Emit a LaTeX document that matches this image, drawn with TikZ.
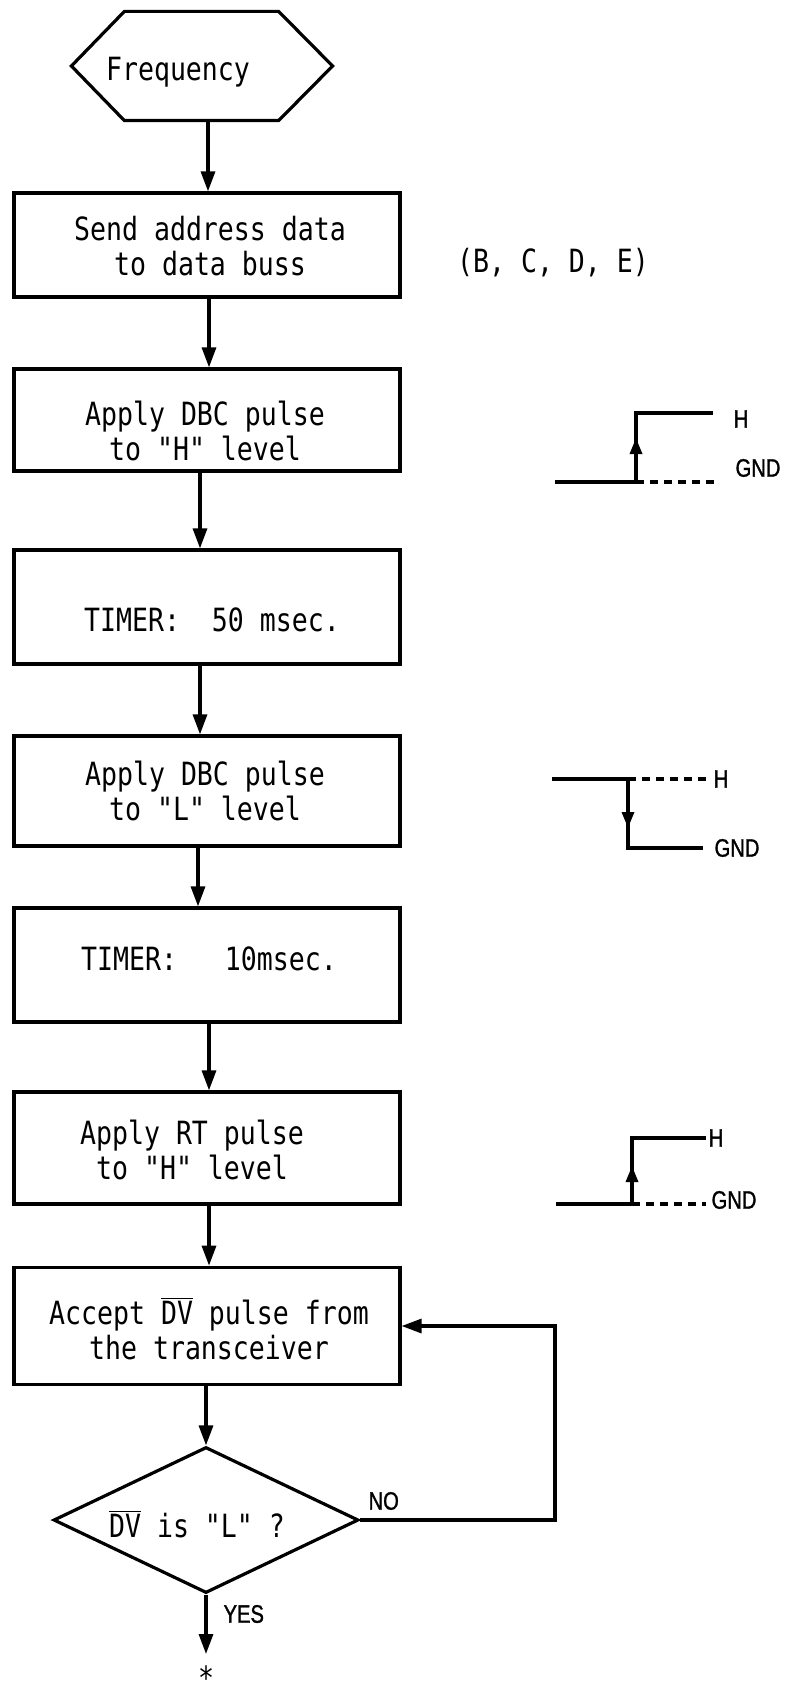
\documentclass[tikz,border=0pt]{standalone}
\usepackage{fontspec}
\usepackage{graphicx}
\usetikzlibrary{arrows.meta,shapes.geometric}
\newfontfamily\tw[FakeStretch=0.83]{DejaVu Sans Mono}
\newfontfamily\lbl[FakeStretch=0.8,FakeBold=1.2]{Liberation Sans}
\begin{document}
\begin{tikzpicture}[x=0.5pt,y=-0.5pt,
  line width=1.6pt,
  txt/.style={font=\tw\fontsize{16}{17.5}\selectfont, align=center, inner sep=0pt},
  stepbox/.style={draw, rectangle, minimum width=193pt, inner sep=0pt},
  arr/.style={-{Triangle[length=10pt,width=7pt]}},
  parr/.style={-{Triangle[length=8pt,width=6pt]}},
  lab/.style={font=\lbl\fontsize{12.6}{14}\selectfont, inner sep=0pt},
  dsh/.style={dash pattern=on 4pt off 3pt},
]
\useasboundingbox (0,0) rectangle (785,1696);

% start hexagon
\node[minimum width=129pt, minimum height=53pt, inner sep=0pt] (hex) at (202,66) {};
\draw[line join=miter] (hex.west) -- ([xshift=26.5pt]hex.north west) -- ([xshift=-27pt]hex.north east) -- (hex.east) -- ([xshift=-27pt]hex.south east) -- ([xshift=26.5pt]hex.south west) -- cycle;
\node[txt] (freq) at (178,72) {Frequency};

% boxes
\node[stepbox, minimum height=52pt] (b1) at (207,245) {};
\node[txt] (t1) at (210,246) {Send address data\\to data buss};
\node[stepbox, minimum height=51pt] (b2) at (207,420) {};
\node[txt] (t2) at (205,431) {Apply DBC pulse\\to "H" level};
\node[stepbox, minimum height=57pt] (b3) at (207,607) {};
\node[txt] (t3) at (212,620) {TIMER:\ \ 50 msec.};
\node[stepbox, minimum height=55pt] (b4) at (207,791) {};
\node[txt] (t4) at (205,791) {Apply DBC pulse\\to "L" level};
\node[stepbox, minimum height=57pt] (b5) at (207,965) {};
\node[txt] (t5) at (209,959) {TIMER:\ \ \ 10msec.};
\node[stepbox, minimum height=56pt] (b6) at (207,1148) {};
\node[txt] (t6) at (192,1150) {Apply RT pulse\\to "H" level};
\node[stepbox, minimum height=58.75pt] (b7) at (207,1326) {};
\node[txt] (t7) at (209,1329) {Accept $\overline{\hbox{DV}}$ pulse from\\the transceiver};

% decision
\node[draw, diamond, aspect=2, inner sep=0pt, minimum width=152.5pt, minimum height=73pt] (dia) at (206,1520) {};
\node[txt] (td) at (197,1524) {$\overline{\hbox{DV}}$ is "L" ?};

% side note
\node[txt] (bcde) at (553,263) {(B, C, D, E)};

% main arrows
\draw[arr] ([xshift=3pt]hex.south) -- ([xshift=0.5pt]b1.north);
\draw[arr] ([xshift=1pt]b1.south) -- ([xshift=1pt]b2.north);
\draw[arr] ([xshift=-3.5pt]b2.south) -- ([xshift=-3.5pt]b3.north);
\draw[arr] ([xshift=-3.5pt]b3.south) -- ([xshift=-3.5pt]b4.north);
\draw[arr] ([xshift=-4.5pt]b4.south) -- ([xshift=-4.5pt]b5.north);
\draw[arr] ([xshift=1pt]b5.south) -- ([xshift=1pt]b6.north);
\draw[arr] ([xshift=1pt]b6.south) -- ([xshift=1pt]b7.north);
\draw[arr] (b7.south -| dia.north) -- (dia.north);

% loop back
\coordinate (lx) at (555,0);
\draw[arr] (dia.east) -- (dia.east -| lx) -- (b7.east -| lx) -- (b7.east);
\node[lab, anchor=west] (no) at (367,1501) {NO};
\node[lab, anchor=west] (yes) at (222,1614) {YES};
\coordinate (endp) at (206,1654);
\draw[arr] (dia.south) -- (endp);
\node[txt, anchor=north] (star) at (206,1664) {*};

% pulse 1 (rise)
\draw (555,482) -- (636,482);
\draw (636,482) -- (636,413) -- (713,413);
\draw[dsh] (636,482) -- (717,482);
\draw[parr] (636,482) -- (636,438);
\node[lab] (h1) at (741,419) {H};
\node[lab] (g1) at (758,468) {GND};

% pulse 2 (fall)
\draw (552,779) -- (628,779) -- (628,848) -- (703,848);
\draw[dsh] (628,779) -- (710,779);
\draw[parr] (628,779) -- (628,828);
\node[lab] (h2) at (721,779) {H};
\node[lab] (g2) at (737,848) {GND};

% pulse 3 (rise)
\draw (556,1204) -- (632,1204);
\draw (632,1204) -- (632,1138) -- (706,1138);
\draw[dsh] (632,1204) -- (706,1204);
\draw[parr] (632,1204) -- (632,1166);
\node[lab] (h3) at (716,1138) {H};
\node[lab] (g3) at (734,1200) {GND};
\end{tikzpicture}
\end{document}
